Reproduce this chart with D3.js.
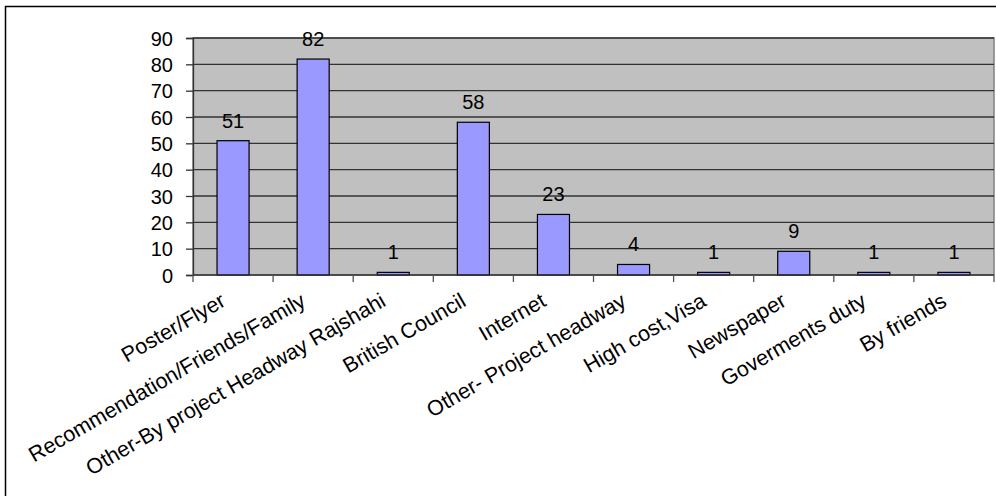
<!DOCTYPE html>
<html>
<head>
<meta charset="utf-8">
<script src="https://cdn.jsdelivr.net/npm/d3@7"></script>
<style>
html,body{margin:0;padding:0;background:#fff;}
svg{display:block;}
text{font-family:"Liberation Sans",Arial,sans-serif;fill:#000;}
</style>
</head>
<body>
<svg id="chart" width="996" height="496"></svg>
<script>
const categories = ["Poster/Flyer","Recommendation/Friends/Family","Other-By project Headway Rajshahi","British Council","Internet","Other- Project headway","High cost,Visa","Newspaper","Goverments duty","By friends"];
const values = [51,82,1,58,23,4,1,9,1,1];
const yTicks = [0,10,20,30,40,50,60,70,80,90];

const svg = d3.select("#chart");
const plot = {left:193, right:994, top:38, bottom:275};

// outer chart border
svg.append("rect").attr("x",5.5).attr("y",6.5).attr("width",1100).attr("height",600)
  .attr("fill","#fff").attr("stroke","#000").attr("stroke-width",1.5);

const x = d3.scaleBand().domain(categories).range([plot.left, plot.right]).paddingInner(0).paddingOuter(0);
const y = d3.scaleLinear().domain([0,90]).range([plot.bottom, plot.top]);

// plot area
svg.append("rect").attr("x",plot.left).attr("y",plot.top)
  .attr("width",plot.right-plot.left).attr("height",plot.bottom-plot.top)
  .attr("fill","#c0c0c0").attr("stroke","#808080").attr("stroke-width",1.5);

// gridlines
svg.append("g").selectAll("line").data(yTicks.filter(t=>t>0)).join("line")
  .attr("x1",plot.left).attr("x2",plot.right)
  .attr("y1",d=>y(d)).attr("y2",d=>y(d))
  .attr("stroke","#333").attr("stroke-width",1.3);

// bars
const bw = x.bandwidth()/2.5;
svg.append("g").selectAll("rect").data(values).join("rect")
  .attr("x",(d,i)=>x(categories[i]) + (x.bandwidth()-bw)/2)
  .attr("y",d=>y(d))
  .attr("width",bw)
  .attr("height",d=>y(0)-y(d))
  .attr("fill","#9999ff").attr("stroke","#000").attr("stroke-width",1.2);

// value labels
svg.append("g").selectAll("text").data(values).join("text")
  .attr("x",(d,i)=>x(categories[i]) + x.bandwidth()/2)
  .attr("y",d=>y(d)-13)
  .attr("text-anchor","middle").attr("font-size",20)
  .text(d=>d);

// y axis
const yAxis = d3.axisLeft(y).tickValues(yTicks).tickSize(7).tickPadding(13);
const gy = svg.append("g").attr("transform",`translate(${plot.left},0)`).call(yAxis);
gy.select(".domain").attr("stroke","#333").attr("stroke-width",1.3);
gy.selectAll(".tick line").attr("stroke","#333").attr("stroke-width",1.3);
gy.selectAll(".tick text").attr("font-size",20).attr("font-family","Liberation Sans, Arial, sans-serif").attr("fill","#000").attr("dy","0.35em");

// x axis line + ticks at band boundaries
svg.append("line").attr("x1",plot.left).attr("x2",plot.right).attr("y1",plot.bottom).attr("y2",plot.bottom)
  .attr("stroke","#333").attr("stroke-width",1.3);
const bounds = categories.map(c=>x(c)).concat([plot.right]);
svg.append("g").selectAll("line").data(bounds).join("line")
  .attr("x1",d=>d).attr("x2",d=>d).attr("y1",plot.bottom).attr("y2",plot.bottom+7)
  .attr("stroke","#555").attr("stroke-width",1.3);

// category labels
svg.append("g").selectAll("text").data(categories).join("text")
  .attr("transform",d=>`translate(${x(d)+x.bandwidth()/2-6},${plot.bottom+30}) rotate(-30)`)
  .attr("text-anchor","end").attr("font-size",21.5)
  .text(d=>d);
</script>
</body>
</html>
